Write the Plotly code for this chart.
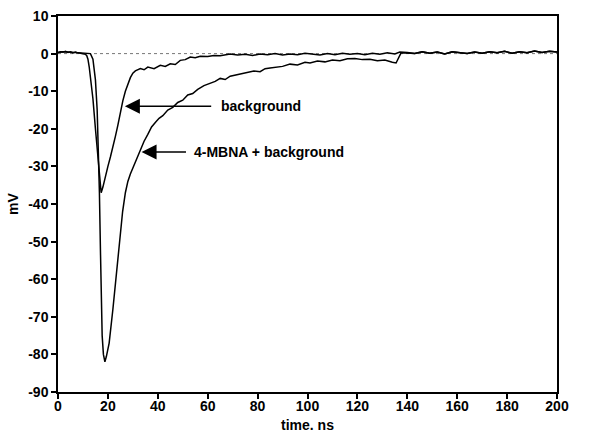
import plotly.graph_objects as go

# ---- data ----
t_bg = [0, 1, 2, 3, 4, 5, 6, 7, 8, 9, 10, 11, 11.5, 12, 12.5, 13.2, 14, 15, 16, 16.8, 17.3, 18, 19,
        20, 21, 22, 23, 24, 25, 26, 27, 28, 29, 30, 31, 33, 34.5, 36, 38.5, 41, 43, 45, 47, 49, 51,
        53, 55, 57, 60, 62.5, 65, 69, 72, 75, 78, 81, 84, 87, 90, 93, 96, 99, 102, 105, 108, 111,
        114, 117, 120, 123, 126, 129, 132, 135, 137, 140, 143, 146, 149, 152, 155, 158, 161, 164,
        167, 170, 173, 176, 179, 182, 185, 188, 191, 194, 197, 200]
v_bg = [0.3, 0.5, 0.4, 0.6, 0.3, 0.5, 0.2, 0.4, 0.2, 0.1, 0.0, -0.2, -0.5, -1.5, -3.5, -7.0, -12.0,
        -20.0, -28.0, -35.0, -37.0, -35.5, -32.5, -30.0, -27.5, -25.0, -22.0, -19.0, -15.5, -12.5,
        -10.0, -8.0, -6.4, -5.2, -4.6, -4.0, -4.3, -3.6, -4.0, -3.1, -3.4, -2.7, -2.9, -1.8, -1.6,
        -0.9, -1.1, -0.7, -0.8, -0.5, -0.6, -0.1, -0.4, -0.2, -0.5, -0.1, -0.3, 0.0, -0.4, -0.1,
        -0.3, 0.1, -0.2, -0.4, 0.0, -0.3, 0.1, -0.2, 0.0, -0.3, 0.1, -0.2, 0.2, -0.1, 0.4, 0.3,
        0.0, 0.5, 0.1, 0.4, -0.1, 0.5, 0.2, 0.0, 0.4, 0.1, 0.5, 0.2, 0.6, 0.1, 0.5, 0.2, 0.7, 0.3,
        0.6, 0.4]

t_mb = [0, 2, 4, 6, 8, 10, 12, 13, 14, 15, 15.7, 16.2, 16.6, 17.0, 17.3, 17.7, 18.2, 18.8, 19.4,
        20.5, 22, 23.2, 24.5, 25.9, 27, 28, 29, 30, 31.5, 33, 34.5, 36, 37.5, 39, 40.5, 42, 44, 46,
        48, 50, 52, 54, 56, 58.5, 61, 63, 65, 67, 69, 72, 75, 78.5, 81, 83, 85, 87.5, 90, 93, 96,
        99, 101, 104, 107, 110, 113, 116, 119, 122, 125, 128, 131, 134, 135.5, 137.5, 140, 143, 146,
        149, 152, 155, 158, 161, 164, 167, 170, 173, 176, 179, 182, 185, 188, 191, 194, 197, 200]
v_mb = [0.3, 0.5, 0.4, 0.3, 0.2, 0.1, 0.0, 0.0, -1.5, -7.0, -15.0, -25.0, -37.0, -52.0, -65.0,
        -75.0, -80.0, -82.0, -80.5, -77.0, -68.0, -59.5, -50.5, -42.0, -37.0, -34.0, -32.0, -30.5,
        -28.0, -25.5, -23.3, -21.5, -19.5, -18.3, -17.2, -16.5, -15.0, -14.3, -13.0, -12.4, -11.0,
        -10.6, -9.5, -8.5, -8.0, -7.4, -6.6, -6.9, -6.0, -5.6, -5.0, -4.6, -4.8, -4.0, -3.8, -3.6,
        -3.4, -2.8, -3.0, -2.3, -2.5, -2.0, -2.2, -1.7, -1.9, -1.4, -1.3, -1.6, -1.5, -1.9, -1.7,
        -2.3, -2.5, 0.2, 0.1, 0.0, 0.5, 0.1, 0.4, -0.1, 0.5, 0.2, 0.0, 0.4, 0.1, 0.5, 0.2, 0.6, 0.1,
        0.5, 0.2, 0.7, 0.3, 0.6, 0.4]

x_ticks = [0, 20, 40, 60, 80, 100, 120, 140, 160, 180, 200]
x_labels = ["0", "20", "40", "60", "80", "100", "120", "140", "160", "180", "200"]
y_ticks = [10, 0, -10, -20, -30, -40, -50, -60, -70, -80, -90]
y_labels = ["10", "0", "-10", "-20", "-30", "-40", "-50", "-60", "-70", "-80", "-90"]

FONT = "Liberation Sans, Arial, sans-serif"

fig = go.Figure()
fig.add_trace(go.Scatter(x=t_bg, y=v_bg, mode="lines", line=dict(color="black", width=1.5),
                         name="background", showlegend=False))
fig.add_trace(go.Scatter(x=t_mb, y=v_mb, mode="lines", line=dict(color="black", width=1.5),
                         name="4-MBNA + background", showlegend=False))

fig.add_shape(type="line", x0=0, x1=200, y0=0, y1=0, xref="x", yref="y", layer="below",
              line=dict(color="#777777", width=1, dash="dot"))

# arrows
fig.add_annotation(x=26.8, y=-14.0, ax=62.0, ay=-14.0, axref="x", ayref="y", xref="x", yref="y",
                   text="", showarrow=True, arrowhead=2, arrowsize=2.0, arrowwidth=1.5,
                   arrowcolor="black")
fig.add_annotation(x=64.5, y=-14.0, xref="x", yref="y", text="<b>background</b>", showarrow=False,
                   xanchor="left", yanchor="middle", font=dict(family=FONT, size=14, color="black"))
fig.add_annotation(x=33.5, y=-26.2, ax=51.9, ay=-26.2, axref="x", ayref="y", xref="x", yref="y",
                   text="", showarrow=True, arrowhead=2, arrowsize=2.0, arrowwidth=1.5,
                   arrowcolor="black")
fig.add_annotation(x=53.9, y=-26.2, xref="x", yref="y", text="<b>4-MBNA + background</b>",
                   showarrow=False, xanchor="left", yanchor="middle",
                   font=dict(family=FONT, size=14, color="black"))

axis_common = dict(showline=True, linecolor="black", linewidth=1.5, mirror=True, ticks="outside",
                   ticklen=5, tickwidth=1.5, tickcolor="black", showgrid=False, zeroline=False,
                   automargin=False, tickfont=dict(family=FONT, size=14, color="black"))

fig.update_layout(
    width=604, height=433,
    margin=dict(l=58, r=47, t=16, b=41),
    paper_bgcolor="white", plot_bgcolor="white",
    font=dict(family=FONT, size=14, color="black"),
    xaxis=dict(range=[0, 200], tickvals=x_ticks, ticktext=["<b>%s</b>" % s for s in x_labels],
               ticklabelstandoff=-5,
               title=dict(text="<b>time. ns</b>", standoff=8, font=dict(family=FONT, size=14)),
               **axis_common),
    yaxis=dict(range=[-90, 10], tickvals=y_ticks, ticktext=["<b>%s</b>" % s for s in y_labels],
               title=dict(text="<b>mV</b>", standoff=6, font=dict(family=FONT, size=14)),
               **axis_common),
)

fig.write_html("out.html")
